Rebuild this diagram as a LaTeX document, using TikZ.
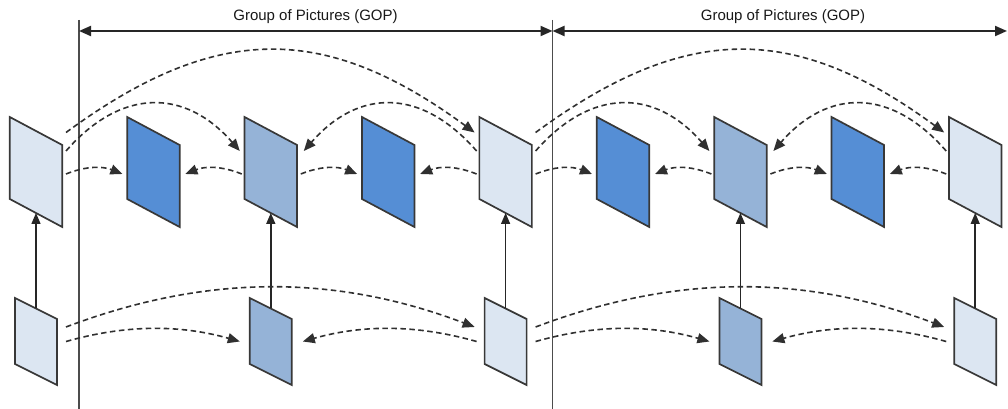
\documentclass[tikz,border=0pt]{standalone}
\usepackage{fontspec}
\setmainfont{Liberation Sans}
\usetikzlibrary{arrows.meta,calc}
\definecolor{lightP}{HTML}{DCE6F2}
\definecolor{medP}{HTML}{95B3D7}
\definecolor{darkP}{HTML}{558ED5}
\definecolor{edgecol}{HTML}{383838}
\definecolor{dashcol}{HTML}{303030}
\tikzset{
 panelbox/.style={draw=edgecol, line width=1.7pt, line join=miter},
 refarrow/.style={draw=dashcol, line width=1.6pt, dash pattern=on 5.5pt off 3.5pt, -{Triangle[length=12pt,width=10pt]}},
 uparrow/.style={draw=black!85, line width=1.5pt, -{Triangle[length=11pt,width=9pt]}},
 gopline/.style={draw=black!70, line width=1.8pt},
 goparrow/.style={draw=black!85, line width=2pt, {Triangle[length=12pt,width=10pt]}-{Triangle[length=12pt,width=10pt]}},
 goplabel/.style={font=\fontsize{15}{18}\selectfont, text=black!90, inner sep=0pt},
}
\newcommand{\toppanel}[3]{%
 \coordinate (#1) at (#2,237);
 \draw[panelbox, fill=#3] ($(#1)+(-26.25,55)$) -- ($(#1)+(26.25,27)$) -- ($(#1)+(26.25,-55)$) -- ($(#1)+(-26.25,-27)$) -- cycle;
 \coordinate (#1-s) at ($(#1)+(0,-41)$);
}
\newcommand{\botpanel}[3]{%
 \coordinate (#1) at (#2,67.5);
 \draw[panelbox, fill=#3] ($(#1)+(-21,43.5)$) -- ($(#1)+(21,22.5)$) -- ($(#1)+(21,-43.5)$) -- ($(#1)+(-21,-22.5)$) -- cycle;
 \coordinate (#1-n) at ($(#1)+(0,33)$);
}
\begin{document}
\begin{tikzpicture}[x=1pt,y=1pt]
\useasboundingbox[fill=white] (0,0) rectangle (1008,409);

% GOP boundaries
\coordinate (g0top) at (79,389);
\coordinate (g0bot) at (79,0);
\coordinate (g1top) at (552.5,389);
\coordinate (g1bot) at (552.5,0);
\draw[gopline] (g0top) -- (g0bot);
\draw[gopline] (g1top) -- (g1bot);
\coordinate (ga) at (79,378);
\coordinate (gb) at (552.5,378);
\coordinate (gc) at (1007,378);
\draw[goparrow] (ga) -- (gb);
\draw[goparrow] (gb) -- (gc);
\node[goplabel] (lab1) at (315.5,392) {Group of Pictures (GOP)};
\node[goplabel] (lab2) at (783,392) {Group of Pictures (GOP)};

% top row
\toppanel{t1}{36}{lightP}
\toppanel{t2}{153.4}{darkP}
\toppanel{t3}{270.8}{medP}
\toppanel{t4}{388.2}{darkP}
\toppanel{t5}{505.6}{lightP}
\toppanel{t6}{623}{darkP}
\toppanel{t7}{740.4}{medP}
\toppanel{t8}{857.8}{darkP}
\toppanel{t9}{975.2}{lightP}

% bottom row
\botpanel{b1}{36}{lightP}
\botpanel{b2}{270.8}{medP}
\botpanel{b3}{505.6}{lightP}
\botpanel{b4}{740.4}{medP}
\botpanel{b5}{975.2}{lightP}

% vertical arrows
\draw[uparrow] (b1-n) -- (t1-s);
\draw[uparrow] (b2-n) -- (t3-s);
\draw[uparrow] (b3-n) -- (t5-s);
\draw[uparrow] (b4-n) -- (t7-s);
\draw[uparrow] (b5-n) -- (t9-s);

% top short arcs
\draw[refarrow] ($(t1)+(30,-2)$) .. controls +(20,8) and +(-20,8) .. ($(t2)+(-31,-2)$);
\draw[refarrow] ($(t3)+(-29,-2)$) .. controls +(-20,8) and +(20,8) .. ($(t2)+(32,-2)$);
\draw[refarrow] ($(t3)+(30,-2)$) .. controls +(20,8) and +(-20,8) .. ($(t4)+(-31,-2)$);
\draw[refarrow] ($(t5)+(-29,-2)$) .. controls +(-20,8) and +(20,8) .. ($(t4)+(32,-2)$);
\draw[refarrow] ($(t5)+(30,-2)$) .. controls +(20,8) and +(-20,8) .. ($(t6)+(-31,-2)$);
\draw[refarrow] ($(t7)+(-29,-2)$) .. controls +(-20,8) and +(20,8) .. ($(t6)+(32,-2)$);
\draw[refarrow] ($(t7)+(30,-2)$) .. controls +(20,8) and +(-20,8) .. ($(t8)+(-31,-2)$);
\draw[refarrow] ($(t9)+(-29,-2)$) .. controls +(-20,8) and +(20,8) .. ($(t8)+(32,-2)$);

% top medium arcs
\draw[refarrow] ($(t1)+(30,21)$) .. controls +(55,63) and +(-55,63) .. ($(t3)+(-31,21)$);
\draw[refarrow] ($(t5)+(-29,21)$) .. controls +(-55,63) and +(55,63) .. ($(t3)+(33,21)$);
\draw[refarrow] ($(t5)+(30,21)$) .. controls +(55,63) and +(-55,63) .. ($(t7)+(-31,21)$);
\draw[refarrow] ($(t9)+(-29,21)$) .. controls +(-55,63) and +(55,63) .. ($(t7)+(33,21)$);

% top big arcs
\draw[refarrow] ($(t1)+(30,39.5)$) .. controls +(150,110) and +(-150,110) .. ($(t5)+(-31,39.5)$);
\draw[refarrow] ($(t5)+(30,39.5)$) .. controls +(150,110) and +(-150,110) .. ($(t9)+(-31,39.5)$);

% bottom short arcs
\draw[refarrow] ($(b1)+(30,0)$) .. controls +(60,17) and +(-60,17) .. ($(b2)+(-31,0)$);
\draw[refarrow] ($(b3)+(-29,0)$) .. controls +(-60,17) and +(60,17) .. ($(b2)+(32,0)$);
\draw[refarrow] ($(b3)+(30,0)$) .. controls +(60,17) and +(-60,17) .. ($(b4)+(-31,0)$);
\draw[refarrow] ($(b5)+(-29,0)$) .. controls +(-60,17) and +(60,17) .. ($(b4)+(32,0)$);

% bottom big arcs
\draw[refarrow] ($(b1)+(30,14.5)$) .. controls +(140,53) and +(-140,53) .. ($(b3)+(-31,14.5)$);
\draw[refarrow] ($(b3)+(30,14.5)$) .. controls +(140,53) and +(-140,53) .. ($(b5)+(-31,14.5)$);
\end{tikzpicture}
\end{document}
